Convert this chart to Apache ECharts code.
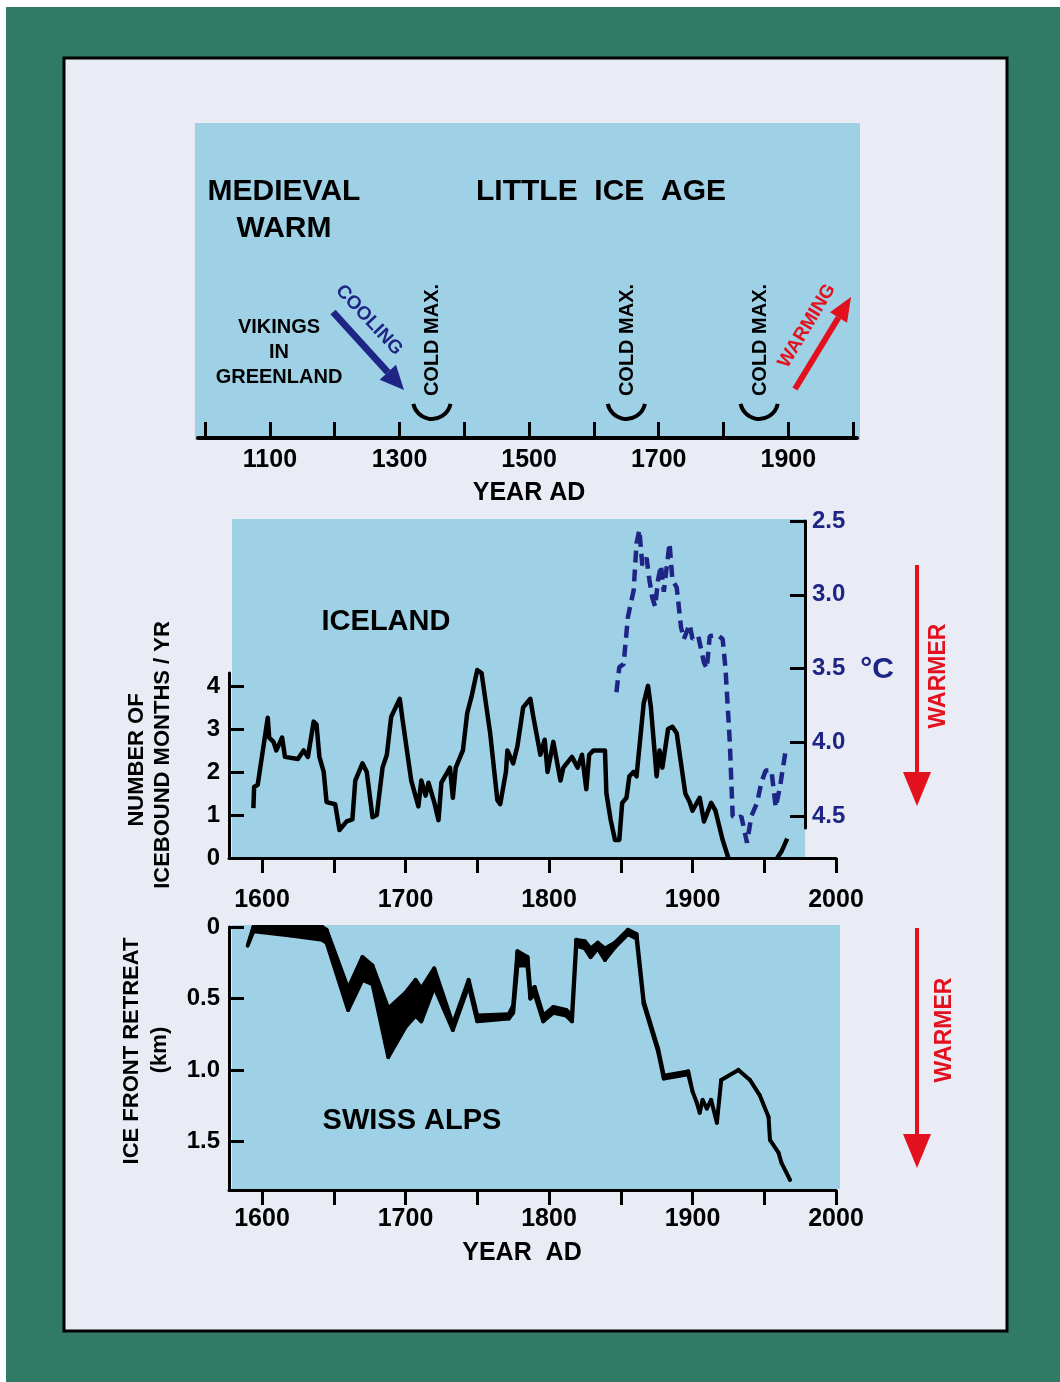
<!DOCTYPE html>
<html>
<head>
<meta charset="utf-8">
<script src="https://cdn.jsdelivr.net/npm/echarts@6/dist/echarts.min.js"></script>
<style>
  html, body { margin: 0; padding: 0; background: #fff; }
  #main { width: 1060px; height: 1382px; }
</style>
</head>
<body>
<div id="main"></div>
<script>
// ---- timeline panel ----
const eraTicks = [1000, 1100, 1200, 1300, 1400, 1500, 1600, 1700, 1800, 1900, 2000];
const eraLabels = [1100, 1300, 1500, 1700, 1900];
const coldMaxYears = [1350, 1650, 1855];

// ---- Iceland: ice-bound months per year ----
const iceYears = [1594, 1594.5, 1597, 1604, 1605, 1608, 1610, 1614, 1616, 1625, 1629, 1632, 1636, 1638, 1640,
  1643, 1645, 1651, 1654, 1659, 1663, 1665, 1670, 1673, 1677, 1680, 1684, 1687, 1690, 1696, 1698,
  1704, 1709, 1711, 1714, 1716, 1720, 1723, 1725, 1731, 1733, 1735, 1740, 1743, 1746, 1750, 1753,
  1759, 1764, 1766, 1770, 1771, 1775, 1778, 1782, 1787, 1789, 1794, 1797, 1799, 1803, 1808, 1810,
  1816, 1820, 1823, 1826, 1828, 1831, 1839, 1840, 1843, 1846, 1849, 1851, 1854, 1856, 1859, 1861,
  1866, 1869, 1871, 1875, 1877, 1879, 1883, 1886, 1889, 1895, 1898, 1900, 1905, 1908, 1913, 1916,
  1921, 1925, 1942, 1959, 1962, 1966];
const iceMonths = [1.16, 1.65, 1.7, 3.26, 2.8, 2.7, 2.5, 2.8, 2.35, 2.3, 2.5, 2.35, 3.17, 3.1, 2.35,
  2.0, 1.3, 1.25, 0.65, 0.85, 0.9, 1.8, 2.2, 2.0, 0.95, 1.0, 2.1, 2.4, 3.28, 3.7, 3.2,
  1.8, 1.2, 1.8, 1.45, 1.75, 1.3, 0.88, 1.75, 2.1, 1.4, 2.1, 2.5, 3.37, 3.75, 4.37, 4.3,
  2.9, 1.35, 1.25, 2.0, 2.5, 2.2, 2.6, 3.5, 3.7, 3.3, 2.4, 2.75, 2.0, 2.7, 1.8, 2.1,
  2.35, 2.1, 2.4, 1.6, 2.4, 2.5, 2.5, 1.5, 0.88, 0.42, 0.42, 1.28, 1.4, 1.9, 2.0, 1.9,
  3.6, 4.0, 3.5, 1.9, 2.5, 2.1, 3.0, 3.05, 2.9, 1.5, 1.3, 1.1, 1.4, 0.85, 1.28, 1.1,
  0.42, 0.0, null, 0.0, 0.15, 0.45];

// ---- Iceland: temperature (degC, inverted scale) ----
const tempYears = [1847, 1849, 1852, 1855, 1859, 1861, 1863, 1865, 1868, 1870, 1872, 1874, 1876, 1878,
  1880, 1884, 1886, 1889, 1892, 1894, 1898, 1900, 1904, 1908, 1910, 1912, 1917, 1921, 1923, 1926,
  1928, 1931, 1934, 1938, 1941, 1945, 1948, 1951, 1955, 1958, 1961, 1965];
const tempC = [3.66, 3.49, 3.47, 3.15, 2.97, 2.65, 2.56, 2.8, 2.75, 2.9, 3.02, 3.08, 2.9, 2.8,
  2.98, 2.65, 2.9, 2.95, 3.22, 3.3, 3.2, 3.3, 3.28, 3.46, 3.5, 3.28, 3.27, 3.3, 3.5, 4.0,
  4.5, 4.52, 4.5, 4.68, 4.5, 4.41, 4.27, 4.19, 4.19, 4.44, 4.3, 4.05];
const iceTicks = [0, 1, 2, 3, 4];
const tempTicks = [2.5, 3.0, 3.5, 4.0, 4.5];
const yearTicks = [1600, 1650, 1700, 1750, 1800, 1850, 1900, 1950, 2000];
const yearLabels = [1600, 1700, 1800, 1900, 2000];

// ---- Swiss Alps: ice front retreat (km), band between two edges ----
const swissYears = [1590, 1594, 1620, 1642, 1645, 1660, 1670, 1677, 1688, 1700, 1707, 1711, 1720, 1733,
  1744, 1750, 1772, 1775, 1778, 1785, 1787, 1790, 1796, 1803, 1812, 1816, 1819, 1825, 1829, 1834,
  1839, 1846, 1855, 1861, 1866, 1876, 1880, 1897, 1900, 1903, 1905, 1907, 1910, 1913, 1917, 1920,
  1932, 1940, 1947, 1953, 1954, 1960, 1962, 1968];
const swissNear = [0.13, 0.0, 0.0, 0.0, 0.02, 0.43, 0.21, 0.27, 0.57, 0.46, 0.37, 0.43, 0.29, 0.68,
  0.37, 0.62, 0.61, 0.55, 0.17, 0.21, 0.45, 0.42, 0.62, 0.56, 0.58, 0.62, 0.09, 0.10, 0.15, 0.11,
  0.15, 0.11, 0.02, 0.05, 0.52, 0.85, 1.04, 1.01, 1.15, 1.23, 1.30, 1.21, 1.27, 1.21, 1.37, 1.07,
  1.00, 1.07, 1.18, 1.33, 1.49, 1.58, 1.65, 1.77];
const swissFar = [0.13, 0.03, 0.06, 0.09, 0.11, 0.58, 0.37, 0.40, 0.91, 0.70, 0.62, 0.66, 0.42, 0.72,
  0.41, 0.66, 0.64, 0.60, 0.27, 0.27, 0.50, 0.47, 0.66, 0.60, 0.62, 0.66, 0.13, 0.15, 0.21, 0.15,
  0.23, 0.14, 0.05, 0.08, 0.54, 0.87, 1.06, 1.03, 1.15, 1.23, 1.30, 1.21, 1.27, 1.21, 1.37, 1.07,
  1.00, 1.07, 1.18, 1.33, 1.49, 1.58, 1.65, 1.77];
const swissTicks = [0, 0.5, 1.0, 1.5];

const FONT = '"Liberation Sans", Arial, Helvetica, sans-serif';
const BLUE = '#9fd1e6';
const NAVY = '#1e2585';
const RED = '#e3101e';

const chart = echarts.init(document.getElementById('main'));

function zip(xs, ys) {
  return xs.map((x, i) => [x, ys[i]]);
}

const lbl = (size, color) => ({
  fontFamily: FONT, fontWeight: 'bold', fontSize: size, color: color || '#000'
});
const plain = v => String(v);

function yearAxis(gridIndex, min, max, margin) {
  return {
    type: 'value', gridIndex, min, max,
    splitLine: { show: false },
    axisLine: { show: true, onZero: false, lineStyle: { color: '#000', width: 3 } },
    axisTick: { show: true, inside: false, length: 15, lineStyle: { color: '#000', width: 3 }, customValues: yearTicks },
    axisLabel: Object.assign({ show: true, margin, customValues: yearLabels, formatter: plain }, lbl(25))
  };
}

const option = {
  animation: false,
  backgroundColor: '#fff',
  grid: [
    { left: 198, top: 123, width: 659, height: 315 },   // timeline
    { left: 229, top: 673, width: 607, height: 185 },   // iceland months
    { left: 229, top: 521, width: 576, height: 307 },   // iceland temp
    { left: 229, top: 927, width: 607, height: 263 }    // swiss
  ],
  xAxis: [
    {
      type: 'value', gridIndex: 0, min: 989, max: 2006,
      splitLine: { show: false },
      axisLine: { show: true, lineStyle: { color: '#000', width: 4 } },
      axisTick: { show: true, inside: true, length: 16, lineStyle: { color: '#000', width: 3 }, customValues: eraTicks },
      axisLabel: Object.assign({ margin: 10, customValues: eraLabels, formatter: plain }, lbl(25))
    },
    yearAxis(1, 1577, 2000, 30),
    { type: 'value', gridIndex: 2, min: 1577, max: 1978.4, show: false },
    yearAxis(3, 1577, 2000, 17)
  ],
  yAxis: [
    { type: 'value', gridIndex: 0, min: 0, max: 1, show: false },
    {
      type: 'value', gridIndex: 1, min: 0, max: 4.3,
      splitLine: { show: false },
      axisLine: { show: true, lineStyle: { color: '#000', width: 3 } },
      axisTick: { show: true, inside: true, length: 15, lineStyle: { color: '#000', width: 3 }, customValues: iceTicks },
      axisLabel: Object.assign({ margin: 9, customValues: iceTicks }, lbl(24))
    },
    {
      type: 'value', gridIndex: 2, position: 'right', inverse: true, min: 2.5, max: 4.58,
      splitLine: { show: false },
      axisLine: { show: true, lineStyle: { color: '#000', width: 3 } },
      axisTick: { show: true, inside: true, length: 15, lineStyle: { color: '#000', width: 3 }, customValues: tempTicks },
      axisLabel: Object.assign({ margin: 7, customValues: tempTicks, formatter: v => v.toFixed(1) }, lbl(24, NAVY))
    },
    {
      type: 'value', gridIndex: 3, inverse: true, min: 0, max: 1.84,
      splitLine: { show: false },
      axisLine: { show: true, lineStyle: { color: '#000', width: 3 } },
      axisTick: { show: true, inside: true, length: 15, lineStyle: { color: '#000', width: 3 }, customValues: swissTicks },
      axisLabel: Object.assign({ margin: 9, customValues: swissTicks, formatter: v => v === 0 ? '0' : v.toFixed(1) }, lbl(24))
    }
  ],
  series: [
    {
      name: 'ice months', type: 'line', xAxisIndex: 1, yAxisIndex: 1,
      data: zip(iceYears, iceMonths), showSymbol: false, clip: false, connectNulls: false,
      lineStyle: { color: '#000', width: 4.5, join: 'round' }, z: 5
    },
    {
      name: 'temperature', type: 'line', xAxisIndex: 2, yAxisIndex: 2,
      data: zip(tempYears, tempC), showSymbol: false, clip: false,
      lineStyle: { color: NAVY, width: 4.5, type: [12, 7] }, z: 4
    },
    {
      name: 'ice front', type: 'custom', xAxisIndex: 3, yAxisIndex: 3,
      data: swissYears.map((y, i) => [y, swissNear[i], swissFar[i]]),
      renderItem: function (params, api) {
        if (params.dataIndexInside === 0) return null;
        const i = params.dataIndexInside;
        const a = api.coord([api.value(0, i - 1), api.value(1, i - 1)]);
        const b = api.coord([api.value(0, i), api.value(1, i)]);
        const c = api.coord([api.value(0, i), api.value(2, i)]);
        const d = api.coord([api.value(0, i - 1), api.value(2, i - 1)]);
        return {
          type: 'polygon',
          shape: { points: [a, b, c, d] },
          style: { fill: '#000', stroke: '#000', lineWidth: 4, lineJoin: 'round' }
        };
      },
      z: 5
    }
  ]
};

chart.setOption(option);

// ---- annotations ----
const px = (axis, v) => chart.convertToPixel({ xAxisIndex: axis }, v);
const txt = (text, x, y, size, opts) => Object.assign({
  type: 'text', x, y, z: 50,
  style: Object.assign({ text, fontFamily: FONT, fontWeight: 'bold', fontSize: size, fill: '#000', align: 'center', verticalAlign: 'middle' }, (opts && opts.style) || {})
}, opts ? { rotation: opts.rotation || 0 } : {});

function arrow(x1, y1, x2, y2, color, width, headLen, headW) {
  const ang = Math.atan2(y2 - y1, x2 - x1);
  const bx = x2 - headLen * Math.cos(ang), by = y2 - headLen * Math.sin(ang);
  const nx = -Math.sin(ang) * headW / 2, ny = Math.cos(ang) * headW / 2;
  return [
    { type: 'line', z: 40, shape: { x1, y1, x2: bx, y2: by }, style: { stroke: color, lineWidth: width } },
    { type: 'polygon', z: 40, shape: { points: [[x2, y2], [bx + nx, by + ny], [bx - nx, by - ny]] }, style: { fill: color } }
  ];
}

const g = [
  { type: 'rect', z: -20, shape: { x: 6, y: 7, width: 1054, height: 1375 }, style: { fill: '#317a66' } },
  { type: 'rect', z: -19, shape: { x: 64, y: 58, width: 943, height: 1273 }, style: { fill: '#e9ebf5', stroke: '#000', lineWidth: 3 } },
  { type: 'rect', z: -18, shape: { x: 195, y: 123, width: 665, height: 317 }, style: { fill: BLUE } },
  { type: 'rect', z: -18, shape: { x: 232, y: 519, width: 573, height: 339 }, style: { fill: BLUE } },
  { type: 'rect', z: -18, shape: { x: 232, y: 925, width: 608, height: 264 }, style: { fill: BLUE } },

  txt('MEDIEVAL', 284, 192, 30),
  txt('WARM', 284, 229, 30),
  txt('LITTLE  ICE  AGE', 601, 192, 30),
  txt('VIKINGS\nIN\nGREENLAND', 279, 352, 20, { style: { lineHeight: 25 } }),
  txt('COOLING', 369, 320, 19, { rotation: -47 * Math.PI / 180, style: { fill: NAVY } }),
  txt('WARMING', 807, 326, 19, { rotation: 59 * Math.PI / 180, style: { fill: RED } }),
  txt('YEAR AD', 529, 493, 25),

  txt('ICELAND', 386, 622, 29),
  txt('\u00B0C', 877, 670, 30, { style: { fill: NAVY } }),
  txt('NUMBER OF', 137, 760, 22, { rotation: Math.PI / 2 }),
  txt('ICEBOUND MONTHS / YR', 163, 755, 22, { rotation: Math.PI / 2 }),
  txt('WARMER', 939, 676, 23, { rotation: Math.PI / 2, style: { fill: RED } }),

  txt('SWISS ALPS', 412, 1121, 29),
  txt('YEAR  AD', 522, 1253, 25),
  txt('ICE FRONT RETREAT', 132, 1051, 22, { rotation: Math.PI / 2 }),
  txt('(km)', 160, 1050, 22, { rotation: Math.PI / 2 }),
  txt('WARMER', 945, 1030, 23, { rotation: Math.PI / 2, style: { fill: RED } })
]
  .concat(arrow(333, 312, 404, 390, NAVY, 7, 24, 22))
  .concat(arrow(795, 389, 851, 297, RED, 6, 24, 20))
  .concat(arrow(917, 565, 917, 806, RED, 4, 34, 28))
  .concat(arrow(917, 928, 917, 1168, RED, 4, 34, 28));

coldMaxYears.forEach(yr => {
  const x = px(0, yr);
  g.push(txt('COLD MAX.', x + 1, 340, 20, { rotation: Math.PI / 2 }));
  g.push({
    type: 'arc', z: 40,
    shape: { cx: x, cy: 400, r: 19, startAngle: 12 * Math.PI / 180, endAngle: 168 * Math.PI / 180 },
    style: { stroke: '#000', lineWidth: 4, fill: null }
  });
});

chart.setOption({ graphic: { elements: g } });
</script>
</body>
</html>
